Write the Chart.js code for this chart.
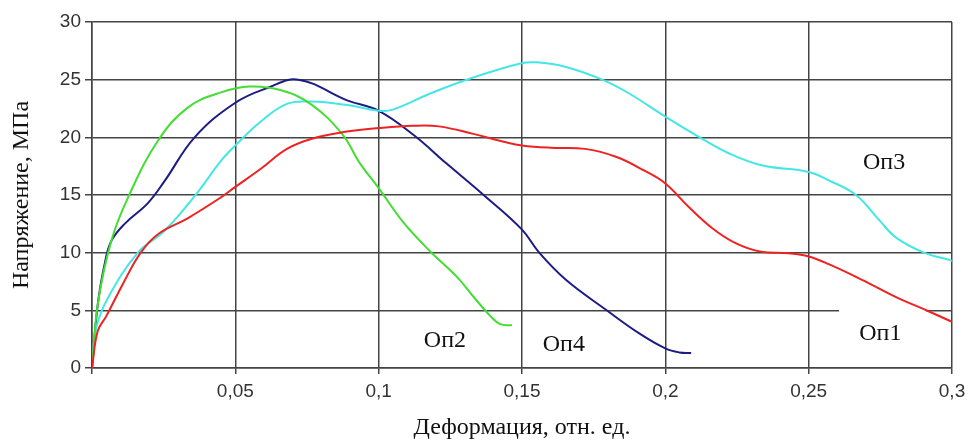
<!DOCTYPE html>
<html>
<head>
<meta charset="utf-8">
<script src="https://cdn.jsdelivr.net/npm/chart.js@4"></script>
<style>
  html, body { margin: 0; padding: 0; background: #fff; }
  #wrap { width: 968px; height: 440px; }
</style>
</head>
<body>
<div id="wrap"><canvas id="chart" width="968" height="440"></canvas></div>
<script>
// Оп1
var op1Strain = [0, 0.002, 0.005, 0.011, 0.017, 0.023, 0.0335, 0.045, 0.05, 0.059, 0.068, 0.077, 0.089, 0.1, 0.112, 0.121, 0.133, 0.144, 0.15, 0.16, 0.172, 0.183, 0.192, 0.2, 0.208, 0.2165, 0.2247, 0.233, 0.243, 0.25, 0.257, 0.269, 0.2805, 0.292, 0.3];
var op1Stress = [0, 3.2, 4.5, 7.4, 10, 11.6, 13, 14.8, 15.7, 17.3, 19, 19.9, 20.5, 20.8, 21.0, 20.95, 20.3, 19.6, 19.3, 19.1, 19.0, 18.3, 17.2, 16, 14, 12.1, 10.8, 10.1, 9.95, 9.67, 9.0, 7.6, 6.15, 4.9, 4.0];

// Оп2
var op2Strain = [0, 0.002, 0.0067, 0.0126, 0.023, 0.0335, 0.045, 0.055, 0.0657, 0.0762, 0.0872, 0.0936, 0.1, 0.1087, 0.118, 0.1273, 0.133, 0.139, 0.1424, 0.1465];
var op2Stress = [0, 5.5, 11, 14.8, 19.7, 22.6, 23.9, 24.4, 24.1, 22.9, 20.3, 17.7, 15.6, 12.6, 10.1, 7.9, 6.2, 4.5, 3.8, 3.7];

// Оп3
var op3Strain = [0, 0.0015, 0.0056, 0.016, 0.0253, 0.0358, 0.0451, 0.05, 0.059, 0.068, 0.0762, 0.089, 0.1, 0.105, 0.118, 0.132, 0.1494, 0.155, 0.1653, 0.178, 0.1874, 0.2, 0.212, 0.2223, 0.234, 0.25, 0.2572, 0.2665, 0.2747, 0.2805, 0.2898, 0.3];
var op3Stress = [0, 3.5, 6.1, 10, 11.9, 14.9, 18, 19.3, 21.4, 22.9, 23.1, 22.8, 22.3, 22.4, 23.8, 25.1, 26.4, 26.5, 26.1, 25, 23.8, 21.8, 20, 18.6, 17.55, 17, 16.25, 15, 12.8, 11.3, 10.05, 9.3];

// Оп4
var op4Strain = [0, 0.002, 0.0044, 0.0067, 0.0114, 0.0195, 0.0253, 0.0358, 0.05, 0.0614, 0.072, 0.089, 0.1, 0.1122, 0.1238, 0.1366, 0.15, 0.156, 0.1653, 0.1793, 0.1909, 0.2, 0.2049, 0.209];
var op4Stress = [0, 5.5, 9, 11, 12.5, 14.3, 16.2, 20, 23, 24.3, 25, 23.2, 22.3, 20.2, 17.7, 15, 12, 10, 7.65, 5.05, 3.0, 1.7, 1.35, 1.3];

var seriesNames = ['Оп1', 'Оп2', 'Оп3', 'Оп4'];
var seriesColors = ['#ee2222', '#44dd33', '#44e6e6', '#1c1c84'];

// подписи кривых (в координатах графика)
var tagX = [0.275, 0.1231, 0.2763, 0.1646];
var tagY = [3.0, 2.4, 17.8, 2.0];

function toPoints(xs, ys) {
    return xs.map(function (x, i) { return { x: x, y: ys[i] }; });
}

var curves = [
    toPoints(op1Strain, op1Stress),
    toPoints(op2Strain, op2Stress),
    toPoints(op3Strain, op3Stress),
    toPoints(op4Strain, op4Stress)
];

var gridColor = '#444';
var serif = '"Liberation Serif", "Times New Roman", serif';
var sans = '"Liberation Sans", Arial, sans-serif';

// рамка подписи Оп1 перекрывает линию сетки на 5
var labelPlugin = {
    id: 'labels',
    beforeDatasetsDraw: function (chart) {
        var ctx = chart.ctx, xs = chart.scales.x, ys = chart.scales.y;
        ctx.save();
        ctx.fillStyle = '#fff';
        var x1 = xs.getPixelForValue(0.2606), x2 = xs.getPixelForValue(0.2909);
        ctx.fillRect(x1, ys.getPixelForValue(5) - 2, x2 - x1, 4);
        ctx.restore();
    },
    afterDatasetsDraw: function (chart) {
        var ctx = chart.ctx, xs = chart.scales.x, ys = chart.scales.y;
        ctx.save();
        ctx.fillStyle = '#111';
        ctx.font = '24px ' + serif;
        ctx.textAlign = 'center';
        ctx.textBaseline = 'middle';
        seriesNames.forEach(function (name, i) {
            ctx.fillText(name, xs.getPixelForValue(tagX[i]), ys.getPixelForValue(tagY[i]));
        });
        ctx.restore();
    }
};

new Chart(document.getElementById('chart').getContext('2d'), {
    type: 'line',
    data: {
        datasets: curves.map(function (pts, i) {
            return {
                label: seriesNames[i],
                data: pts,
                borderColor: seriesColors[i],
                borderWidth: 2,
                pointRadius: 0,
                fill: false,
                tension: 0.4
            };
        })
    },
    options: {
        responsive: false,
        animation: false,
        layout: { padding: { top: 22, right: 16, left: 0, bottom: 0 } },
        plugins: {
            legend: { display: false },
            tooltip: { enabled: false }
        },
        scales: {
            x: {
                type: 'linear',
                min: 0,
                max: 0.3,
                afterFit: function (s) {
                    s.height = 72;
                    s.paddingLeft = 0;
                    s.paddingRight = 0;
                },
                ticks: {
                    stepSize: 0.05,
                    color: '#333',
                    font: { family: sans, size: 19 },
                    padding: 6,
                    maxRotation: 0,
                    callback: function (v) {
                        if (v === 0) return '';
                        return v.toFixed(2).replace(/0$/, '').replace('.', ',');
                    }
                },
                grid: { color: gridColor, lineWidth: 1.5, tickLength: 6 },
                border: { color: gridColor, width: 1.5 },
                title: {
                    display: true,
                    text: 'Деформация, отн. ед.',
                    color: '#111',
                    font: { family: serif, size: 24, lineHeight: 1 },
                    padding: { top: 0, bottom: 0 }
                }
            },
            y: {
                min: 0,
                max: 30,
                afterFit: function (s) {
                    s.width = 92;
                    s.paddingTop = 0;
                    s.paddingBottom = 0;
                },
                ticks: {
                    stepSize: 5,
                    color: '#333',
                    font: { family: sans, size: 19 },
                    padding: 4
                },
                grid: { color: gridColor, lineWidth: 1.5, tickLength: 7 },
                border: { color: gridColor, width: 1.5 },
                title: {
                    display: true,
                    text: 'Напряжение, МПа',
                    color: '#111',
                    font: { family: serif, size: 24, lineHeight: 1 },
                    padding: { top: 10, bottom: 0 }
                }
            }
        }
    },
    plugins: [labelPlugin]
});
</script>
</body>
</html>
